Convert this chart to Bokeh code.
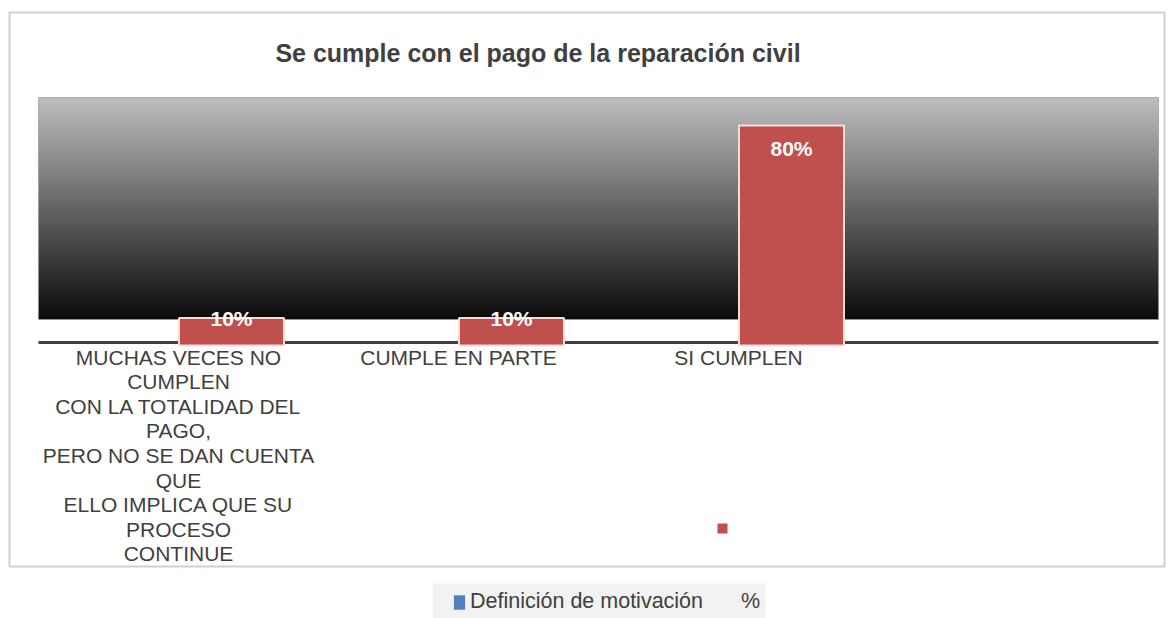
from bokeh.plotting import figure
from bokeh.models import Range1d, ColumnDataSource, Legend, LegendItem, Label
from bokeh.core.properties import value
from bokeh.embed import file_html
from bokeh.resources import INLINE

# ---------------- data ----------------
title_text = "Se cumple con el pago de la reparación civil"
categories = [
    "MUCHAS VECES NO\nCUMPLEN\nCON LA TOTALIDAD DEL\nPAGO,\nPERO NO SE DAN CUENTA\nQUE\nELLO IMPLICA QUE SU\nPROCESO\nCONTINUE",
    "CUMPLE EN PARTE",
    "SI CUMPLEN",
]
series1_name = "Definición de motivación"
series1_values = [0, 0, 0]
series2_name = "%"
series2_values = [10, 10, 80]
value_labels = ["10%", "10%", "80%"]
n_slots = 4

# ---------------- geometry helpers (picture pixels -> data) ----------------
W, H = 1170, 618
SLOT_PX = 280.0      # px per category slot
X0_PX = 38.0         # x of slot 0 start
BASE_PX = 345.0      # y of value 0
PPU = 2.75           # px per percent


def X(px):
    return (px - X0_PX) / SLOT_PX


def Y(py):
    return (BASE_PX - py) / PPU


FONT = "Liberation Sans"
TXT = "#404040"
RED = "#C0504D"
BLUE = "#4F81BD"

p = figure(width=W, height=H, output_backend="svg", toolbar_location=None,
           x_axis_location=None, y_axis_location=None,
           x_range=Range1d(X(0), X(W)), y_range=Range1d(Y(H), Y(0)),
           min_border=0)
p.outline_line_color = None
p.xgrid.visible = False
p.ygrid.visible = False
p.background_fill_color = "white"
p.border_fill_color = "white"

# outer chart border
p.quad(left=[X(9)], right=[X(1164)], bottom=[Y(566)], top=[Y(12)],
       fill_color=None, line_color="#d0d0d0", line_width=2)

# gradient plot-area box
gy_top, gy_bot = 97.0, 319.0
N = 111
tops, bots, cols = [], [], []
c_top, c_bot = 190.0, 10.0
for i in range(N):
    a = gy_top + (gy_bot - gy_top) * i / N
    b = gy_top + (gy_bot - gy_top) * (i + 1) / N
    t = (i + 0.5) / N
    g = int(round(c_top + (c_bot - c_top) * t))
    tops.append(Y(a))
    bots.append(Y(min(b + 1.0, gy_bot)))
    cols.append("#%02x%02x%02x" % (g, g, g))
p.quad(left=0, right=n_slots, top=tops, bottom=bots, fill_color=cols, line_color=None)
p.quad(left=[0], right=[n_slots], top=[Y(gy_top)], bottom=[Y(gy_bot)],
       fill_color=None, line_color="#9a9a9a", line_width=1, line_alpha=0.7)

# axis line
p.segment(x0=[0], x1=[n_slots], y0=[Y(342)], y1=[Y(342)], line_color=TXT, line_width=3)

# bars (clustered: series1 left, series2 right)
bw = 105.0 / SLOT_PX
off = 53.0 / SLOT_PX
centers = [i + 0.5 for i in range(len(categories))]
src = ColumnDataSource(dict(
    xc=centers,
    x1=[c - off for c in centers],
    x2=[c + off for c in centers],
    v1=series1_values,
    v2=series2_values,
    lab=value_labels,
    ly=[v - 8.4 if v > 20 else v for v in series2_values],
    cat=categories,
))
r1 = p.vbar(x="x1", top="v1", bottom=0, width=bw, source=src,
            fill_color=BLUE, line_color=None)
r2 = p.vbar(x="x2", top="v2", bottom=0, width=bw, source=src,
            fill_color=RED, line_color="#efe0de", line_width=2)

# value labels
p.text(x="x2", y="ly", text="lab", source=src, text_color="white",
       text_font=value(FONT), text_font_style="bold", text_font_size="21px",
       text_align="center", text_baseline="middle")

# category labels
p.text(x="xc", y=Y(345), text="cat", source=src, text_color=TXT,
       text_font=value(FONT), text_font_size="21px", text_line_height=1.07,
       text_align="center", text_baseline="top")

# title
p.add_layout(Label(x=X(537.5), y=Y(52), text=title_text, text_color=TXT,
                   text_font=FONT, text_font_style="bold", text_font_size="25px",
                   text_align="center", text_baseline="middle"))

# stray legend marker
p.scatter(x=[X(722)], y=[Y(528)], marker="square", size=10,
          fill_color=RED, line_color=None)

# legend background
p.quad(left=[X(432)], right=[X(765)], bottom=[Y(618)], top=[Y(583)],
       fill_color="#f2f2f2", line_color=None)

dummy = p.scatter(x=[], y=[], fill_alpha=0, line_alpha=0)
legend = Legend(items=[LegendItem(label=series1_name, renderers=[r1]),
                       LegendItem(label=series2_name, renderers=[dummy])],
                orientation="horizontal", location=(452, 4),
                padding=5, spacing=20, label_standoff=4,
                glyph_width=14, glyph_height=18,
                label_text_font=FONT, label_text_font_size="21.5px",
                label_text_color=TXT, background_fill_alpha=0,
                border_line_color=None)
p.add_layout(legend)

open("out.html", "w").write(file_html(p, INLINE))
